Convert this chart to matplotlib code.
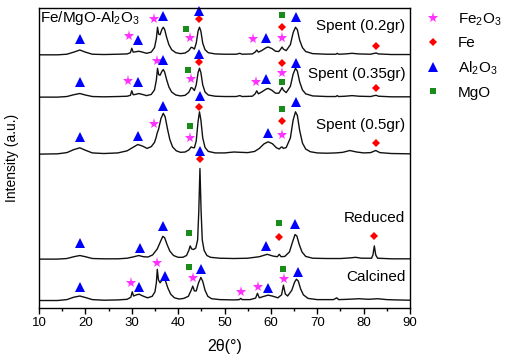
#!/usr/bin/env python3
"""
XRD patterns of Fe/MgO-Al2O3 catalysts (calcined, reduced, spent)
"""

import matplotlib
matplotlib.use('Agg')
import matplotlib.pyplot as plt
from matplotlib.lines import Line2D
from matplotlib.ticker import MultipleLocator

plt.rcParams['font.family'] = ['Liberation Sans', 'DejaVu Sans']
plt.rcParams['mathtext.default'] = 'regular'

# --- digitised patterns: 2theta and intensity above each baseline (a.u.) ---
tt_spent02 = [10, 14, 16, 17.5, 18.8, 20, 21.5, 24, 27, 29.0, 29.7, 30.0, 30.3, 30.8, 31.5, 32.3, 33.2,
              34.2, 34.9, 35.3, 35.55, 35.8, 36.1, 36.5, 36.8, 37.1, 37.5, 38.0, 38.6, 39.5, 40.5, 41.5,
              42.3, 42.8, 43.1, 43.5, 43.9, 44.3, 44.6, 44.9, 45.3, 45.8, 46.5, 48, 50, 52.5, 53.3, 53.8,
              56.0, 56.6, 56.95, 57.3, 58.0, 59.0, 59.4, 60.2, 61.0, 61.7, 62.1, 62.4, 62.7, 63.3, 64.2,
              64.8, 65.3, 65.7, 66.2, 66.8, 67.5, 69, 72, 74.0, 74.3, 74.6, 76, 77.5, 79, 81.5, 82.3,
              82.7, 83.2, 86, 90]
i_spent02 = [0.1, 0.1, 0.3, 1.0, 1.7, 1.0, 0.3, 0.2, 0.3, 0.4, 0.8, 2.3, 1.0, 1.1, 1.3, 1.0, 0.6,
             1.0, 2.5, 5.5, 9.3, 7.0, 6.8, 8.6, 9.3, 8.5, 6.0, 3.5, 1.8, 0.8, 0.5, 0.7,
             1.5, 2.6, 2.5, 2.0, 4.0, 8.0, 9.3, 8.0, 4.0, 1.8, 0.8, 0.4, 0.3, 0.3, 0.6, 0.3,
             0.4, 1.0, 1.7, 1.0, 1.5, 2.5, 2.7, 2.2, 1.3, 1.2, 2.0, 2.7, 2.0, 1.5, 3.5,
             7.5, 9.3, 8.5, 5.0, 2.5, 1.2, 0.5, 0.3, 0.3, 0.6, 0.3, 0.4, 0.6, 0.4, 0.3, 0.6,
             0.7, 0.4, 0.2, 0.2]

tt_spent035 = tt_spent02
i_spent035 = [0.1, 0.1, 0.3, 0.9, 1.3, 0.8, 0.3, 0.2, 0.3, 0.4, 0.7, 2.2, 0.9, 1.0, 1.3, 1.0, 0.6,
              1.0, 2.5, 5.8, 9.7, 7.6, 7.4, 8.7, 9.3, 8.4, 6.0, 3.5, 1.8, 0.8, 0.5, 0.7,
              1.7, 3.3, 3.1, 2.3, 4.2, 8.3, 9.7, 8.3, 4.2, 1.8, 0.8, 0.4, 0.3, 0.3, 0.6, 0.3,
              0.4, 1.2, 2.2, 1.2, 1.8, 2.8, 3.0, 2.4, 1.4, 1.4, 2.4, 3.3, 2.4, 1.6, 3.7,
              7.8, 9.7, 8.8, 5.2, 2.5, 1.2, 0.5, 0.3, 0.3, 0.6, 0.3, 0.4, 0.6, 0.4, 0.3, 0.6,
              0.7, 0.4, 0.2, 0.2]

tt_spent05 = [10, 14, 16, 17.5, 18.8, 20, 21.5, 24, 27, 29, 30.2, 31.3, 32.3, 33.3, 34.2, 34.9, 35.3,
              35.45, 35.8, 36.3, 36.8, 37.2, 37.7, 38.2, 38.8, 39.6, 40.5, 41.5, 42.3, 42.8, 43.1, 43.5,
              43.9, 44.3, 44.6, 44.9, 45.3, 45.8, 46.5, 48, 50, 52, 53.5, 55, 56.5, 57.5, 58.5, 59.4,
              60.3, 61.2, 61.8, 62.2, 62.4, 62.7, 63.3, 64.2, 64.8, 65.3, 65.7, 66.2, 66.8, 67.5, 68.5,
              70, 72, 74, 75.5, 77, 78.5, 80, 81.5, 82.6, 83.5, 86, 90]
i_spent05 = [0.1, 0.2, 0.6, 1.6, 2.2, 1.4, 0.5, 0.3, 0.5, 1.2, 2.3, 3.3, 2.8, 2.0, 2.6, 4.0, 5.9,
             7.0, 8.5, 12.0, 13.7, 12.5, 8.5, 5.0, 2.5, 1.2, 0.7, 0.8, 1.5, 2.5, 2.3, 2.2,
             4.5, 11.0, 14.2, 11.5, 5.5, 2.3, 1.0, 0.5, 0.5, 0.8, 0.7, 0.6, 1.0, 2.0, 3.5, 4.2,
             3.6, 2.2, 1.8, 2.4, 2.5, 2.0, 2.3, 5.5, 11.5, 14.2, 13.0, 8.0, 3.8, 1.8, 0.9,
             0.5, 0.4, 0.5, 0.7, 1.3, 0.8, 0.5, 0.6, 1.3, 0.6, 0.3, 0.2]

tt_reduced = [10, 14, 16, 17.5, 18.8, 20, 21.5, 24, 27, 29, 30.5, 31.5, 32.5, 33.5, 34.5, 35.5, 36.2,
              36.7, 37.1, 37.6, 38.2, 39, 40, 41, 41.8, 42.3, 42.6, 42.9, 43.3, 43.8, 44.2, 44.45,
              44.7, 44.95, 45.2, 45.6, 46.2, 47, 49, 52, 55, 57.5, 59.2, 60.5, 61.4, 61.8, 62.2, 63,
              64, 64.6, 65.2, 65.6, 66.1, 66.7, 67.5, 69, 72, 75, 77, 78.3, 79.5, 81.7, 82.0, 82.3,
              82.6, 83.0, 86, 90]
i_reduced = [0.1, 0.1, 0.3, 0.9, 1.3, 0.9, 0.3, 0.2, 0.2, 0.4, 0.9, 1.3, 0.9, 0.8, 1.5, 3.5, 6.0,
             7.7, 7.2, 5.0, 2.8, 1.3, 0.7, 0.7, 1.3, 3.0, 4.5, 3.5, 3.3, 3.8, 6.5, 16.0,
             30.3, 16.0, 6.5, 3.0, 1.3, 0.7, 0.4, 0.3, 0.4, 0.9, 1.7, 1.1, 0.9, 1.7, 0.9, 1.0,
             2.5, 5.5, 8.3, 7.8, 5.0, 2.5, 1.0, 0.4, 0.3, 0.3, 0.5, 0.7, 0.4, 0.4, 1.5, 4.5,
             1.5, 0.4, 0.2, 0.2]

tt_calcined = [10, 14, 16, 17.5, 18.8, 20, 21.5, 24, 27, 29, 29.8, 30.1, 30.4, 31.0, 31.6, 32.4, 33.4,
               34.4, 35.0, 35.3, 35.5, 35.75, 36.1, 36.5, 36.9, 37.3, 37.8, 38.4, 39.2, 40.2, 41.2,
               42.2, 42.8, 43.15, 43.5, 43.9, 44.4, 44.9, 45.3, 45.8, 46.4, 47.2, 49, 52, 53.2, 53.5,
               53.8, 55.5, 56.7, 57.1, 57.5, 58.3, 59.4, 60.5, 61.5, 62.3, 62.7, 63.1, 63.6, 64.5,
               65.1, 65.5, 65.9, 66.4, 67, 68, 70, 73.5, 74.2, 74.6, 76.5, 79, 81, 83, 85, 87, 90]
i_calcined = [0.1, 0.1, 0.4, 1.2, 1.6, 1.1, 0.4, 0.2, 0.3, 0.5, 1.2, 3.0, 1.6, 2.0, 2.2, 1.6, 1.0,
              1.5, 3.0, 6.0, 10.5, 7.0, 6.0, 6.8, 7.3, 6.5, 4.2, 2.2, 1.0, 0.6, 0.8,
              1.5, 3.5, 4.9, 3.3, 3.3, 6.0, 7.8, 6.5, 3.5, 1.5, 0.7, 0.4, 0.3, 0.4, 0.8,
              0.4, 0.4, 0.9, 2.5, 1.0, 1.4, 1.9, 1.5, 1.0, 2.0, 5.2, 2.3, 1.6, 3.5,
              6.2, 7.2, 6.6, 4.0, 2.0, 0.8, 0.4, 0.4, 1.0, 0.4, 0.5, 0.7, 0.5, 0.7, 0.4, 0.3, 0.2]

sample_names = ['Spent (0.2gr)', 'Spent (0.35gr)', 'Spent (0.5gr)', 'Reduced', 'Calcined']
offsets = [84.3, 70.2, 51.2, 16.2, 2.4]
label_y = [94.0, 78.0, 61.0, 29.9, 10.2]

# --- phase markers (2theta, height in plot units) ---
fe2o3_x = [29.3, 34.9, 42.5, 56.2, 62.4,
           29.2, 35.4, 42.8, 56.7, 62.4,
           34.85, 42.5, 62.4,
           29.8, 35.4, 43.1, 53.5, 57.2, 62.9]
fe2o3_y = [90.7, 96.2, 89.9, 89.8, 89.9,
           75.7, 82.3, 76.2, 75.4, 78.2,
           61.2, 56.6, 57.7,
           8.2, 14.9, 10.1, 5.2, 7.0, 9.6]

fe_x = [44.5, 62.4, 82.6,
        44.5, 62.4, 82.6,
        44.6, 62.4, 82.6,
        44.7, 61.8, 82.3]
fe_y = [96.2, 93.8, 87.4,
        82.1, 81.6, 73.2,
        67.1, 62.4, 54.9,
        49.7, 23.8, 24.0]

al2o3_x = [18.8, 31.4, 36.7, 44.5, 58.9, 65.5,
           18.8, 31.4, 36.8, 44.5, 59.0, 65.4,
           18.8, 31.4, 36.8, 44.7, 59.3, 65.5,
           18.8, 31.8, 36.65, 44.8, 58.9, 65.2,
           18.8, 31.6, 37.2, 44.9, 59.4, 65.75]
al2o3_y = [89.6, 89.3, 97.3, 99.1, 89.9, 97.1,
           75.4, 75.4, 82.7, 84.7, 76.2, 81.6,
           56.9, 57.3, 67.3, 70.7, 58.2, 68.8,
           21.8, 19.9, 27.3, 52.3, 20.7, 27.9,
           7.1, 6.9, 10.7, 12.9, 6.6, 12.1]

mgo_x = [41.8, 62.4, 42.2, 62.4, 42.5, 62.4, 42.4, 61.8, 42.4, 62.7]
mgo_y = [93.1, 97.7, 79.3, 75.4, 60.7, 66.3, 24.9, 28.4, 13.6, 13.0]

phase_labels = [r'Fe$_2$O$_3$', 'Fe', r'Al$_2$O$_3$', 'MgO']


def main():
    fig = plt.figure(figsize=(5.1, 3.6), dpi=100)
    ax = fig.add_axes([0.0765, 0.1444, 0.7275, 0.8333])

    patterns = [(tt_spent02, i_spent02), (tt_spent035, i_spent035), (tt_spent05, i_spent05),
                (tt_reduced, i_reduced), (tt_calcined, i_calcined)]
    for (tt, inten), off, name, ly in zip(patterns, offsets, sample_names, label_y):
        ax.plot(tt, [v + off for v in inten], color='#111111', lw=1.0)
        ax.text(89, ly, name, ha='right', va='center', fontsize=11)

    ax.plot(fe2o3_x, fe2o3_y, '*', color='#ff33ff', ms=8, mew=0, clip_on=False)
    ax.plot(fe_x, fe_y, 'D', color='#ff0000', ms=4.5, mew=0, clip_on=False)
    ax.plot(al2o3_x, al2o3_y, '^', color='#0000ff', ms=7, mew=0, clip_on=False)
    ax.plot(mgo_x, mgo_y, 's', color='#1a8c1a', ms=5, mew=0, clip_on=False)

    ax.text(10.2, 96.6, r'Fe/MgO-Al$_2$O$_3$', ha='left', va='center', fontsize=11)

    ax.set_xlim(10, 90)
    ax.set_ylim(0, 100)
    ax.xaxis.set_major_locator(MultipleLocator(10))
    ax.xaxis.set_minor_locator(MultipleLocator(5))
    ax.tick_params(axis='x', which='major', direction='out', length=4, width=1, labelsize=9.5, pad=2.5)
    ax.tick_params(axis='x', which='minor', direction='out', length=2.5, width=1)
    ax.set_yticks([])
    for sp in ax.spines.values():
        sp.set_linewidth(1.0)

    ax.set_xlabel('2θ(°)', fontsize=11.5, labelpad=7)
    ax.set_ylabel('Intensity (a.u.)', fontsize=10)
    ax.yaxis.set_label_coords(-0.055, 0.5)

    # legend
    handles = [
        Line2D([], [], ls='none', marker='*', color='#ff33ff', ms=8, mew=0),
        Line2D([], [], ls='none', marker='D', color='#ff0000', ms=4.5, mew=0),
        Line2D([], [], ls='none', marker='^', color='#0000ff', ms=7, mew=0),
        Line2D([], [], ls='none', marker='s', color='#1a8c1a', ms=5, mew=0),
    ]
    ax.legend(handles, phase_labels, loc='upper left', bbox_to_anchor=(1.025, 1.01),
              frameon=False, fontsize=11, handlelength=1.0, handletextpad=1.1,
              labelspacing=0.58, borderaxespad=0)

    fig.savefig('out.png', dpi=100)
    plt.close(fig)


if __name__ == "__main__":
    main()
